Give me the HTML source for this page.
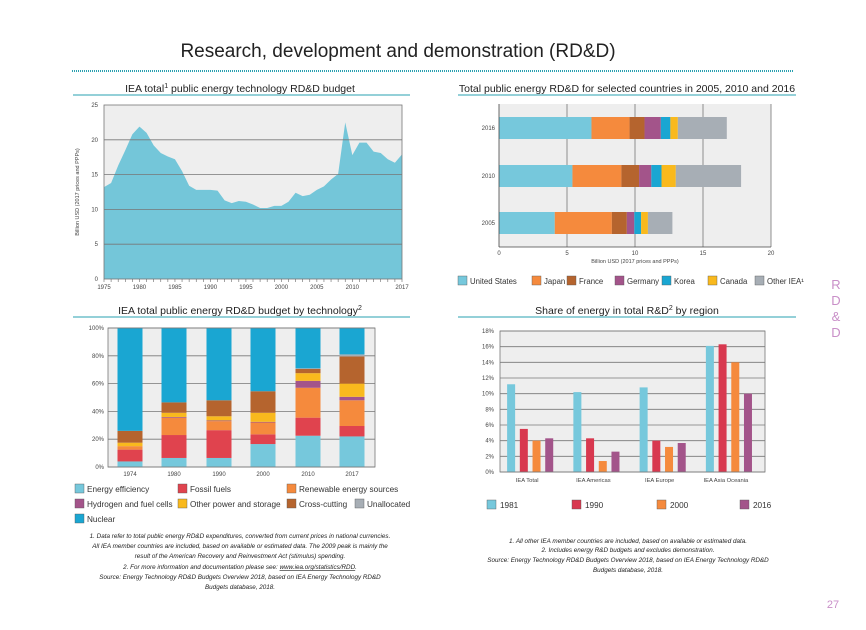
<!DOCTYPE html>
<html><head><meta charset="utf-8"><style>
body{margin:0;background:#fff;width:866px;height:630px;overflow:hidden;font-family:"Liberation Sans",sans-serif}
svg{display:block}
</style></head><body>
<svg id="s" width="866" height="630" viewBox="0 0 866 630">
<text x="398" y="57" text-anchor="middle" font-size="19" fill="#222">Research, development and demonstration (RD&amp;D)</text>
<line x1="72" y1="71" x2="793" y2="71" stroke="#2aa0b0" stroke-width="2" stroke-dasharray="1,1"/>
<g fill="#c98fc8" font-size="13" text-anchor="middle">
<text x="836" y="289">R</text><text x="836" y="305">D</text><text x="836" y="321">&amp;</text><text x="836" y="337">D</text></g>
<text x="833" y="608" font-size="11" fill="#c98fc8" text-anchor="middle">27</text>

<text x="240" y="92" text-anchor="middle" font-size="10.5" fill="#222">IEA total<tspan font-size="7" dy="-4">1</tspan><tspan dy="4"> public energy technology RD&amp;D budget</tspan></text>
<line x1="73" y1="95" x2="410" y2="95" stroke="#2aa0b0"/>
<text x="627" y="92" text-anchor="middle" font-size="10.5" fill="#222">Total public energy RD&amp;D for selected countries in 2005, 2010 and 2016</text>
<line x1="458" y1="95" x2="796" y2="95" stroke="#2aa0b0"/>
<text x="240" y="314" text-anchor="middle" font-size="10.5" fill="#222">IEA total public energy RD&amp;D budget by technology<tspan font-size="7" dy="-4">2</tspan></text>
<line x1="73" y1="317" x2="410" y2="317" stroke="#2aa0b0"/>
<text x="627" y="314" text-anchor="middle" font-size="10.5" fill="#222">Share of energy in total R&amp;D<tspan font-size="7" dy="-4">2</tspan><tspan dy="4"> by region</tspan></text>
<line x1="458" y1="317" x2="796" y2="317" stroke="#2aa0b0"/>

<g font-size="6.3" font-style="italic" fill="#222" text-anchor="middle">
<text x="240" y="538">1. Data refer to total public energy RD&amp;D expenditures, converted from current prices in national currencies.</text>
<text x="240" y="548">All IEA member countries are included, based on available or estimated data. The 2009 peak is mainly the</text>
<text x="240" y="558">result of the American Recovery and Reinvestment Act (stimulus) spending.</text>
<text x="240" y="569">2. For more information and documentation please see: <tspan text-decoration="underline">www.iea.org/statistics/RDD</tspan>.</text>
<text x="240" y="579">Source: Energy Technology RD&amp;D Budgets Overview 2018, based on IEA Energy Technology RD&amp;D</text>
<text x="240" y="589">Budgets database, 2018.</text></g>
<g font-size="6.3" font-style="italic" fill="#222" text-anchor="middle">
<text x="628" y="543">1. All other IEA member countries are included, based on available or estimated data.</text>
<text x="628" y="552">2. Includes energy R&amp;D budgets and excludes demonstration.</text>
<text x="628" y="562">Source: Energy Technology RD&amp;D Budgets Overview 2018, based on IEA Energy Technology RD&amp;D</text>
<text x="628" y="572">Budgets database, 2018.</text></g>
<g id="c1"></g><g id="c2"></g><g id="c3"></g><g id="c4"></g>
</svg>
<script>
// Chart 1 data
const c1Years=[];for(let y=1975;y<=2017;y++)c1Years.push(y);
const c1Values=[13.2,13.8,16.3,18.5,20.8,21.9,21.0,19.2,18.1,17.6,17.2,15.5,13.4,12.8,12.8,12.8,12.7,11.3,10.9,11.2,11.1,10.7,10.2,10.2,10.5,10.5,11.1,12.4,11.9,12.1,12.8,13.3,14.3,15.1,22.5,17.8,19.6,19.6,18.3,18.1,17.2,16.7,17.9];
const c1Ticks=[0,5,10,15,20,25];
const c1XLabels=[1975,1980,1985,1990,1995,2000,2005,2010,2017];
// Chart 2 data
const c2Years=["2016","2010","2005"];
const c2Countries=["United States","Japan","France","Germany","Korea","Canada","Other IEA¹"];
const c2US=[6.8,5.4,4.1];
const c2Japan=[2.8,3.6,4.2];
const c2France=[1.1,1.3,1.1];
const c2Germany=[1.2,0.9,0.55];
const c2Korea=[0.7,0.75,0.5];
const c2Canada=[0.55,1.05,0.5];
const c2Other=[3.6,4.8,1.8];
const c2Ticks=[0,5,10,15,20];
// Chart 3 data
const c3Years=["1974","1980","1990","2000","2010","2017"];
const c3Tech=["Energy efficiency","Fossil fuels","Renewable energy sources","Hydrogen and fuel cells","Other power and storage","Cross-cutting","Unallocated","Nuclear"];
const c3Efficiency=[4,6.5,6.5,16.5,22.5,22];
const c3Fossil=[8.5,16.5,20,7,13,7.5];
const c3Renewable=[2.5,12.5,6.5,8.5,21.5,18.5];
const c3Hydrogen=[0,0.5,0.5,0.5,5,2.5];
const c3OtherPower=[2.5,3,3,6.5,5.5,9.5];
const c3Cross=[8.5,7.5,11.5,15.5,3,19.5];
const c3Unalloc=[0,0,0,0,0.5,1.5];
const c3Nuclear=[74,53.5,52,45.5,29,19];
const c3Ticks=[0,20,40,60,80,100];
// Chart 4 data
const c4Regions=["IEA Total","IEA Americas","IEA Europe","IEA Asia Oceania"];
const c4Series=["1981","1990","2000","2016"];
const c4v1981=[11.2,10.2,10.8,16.1];
const c4v1990=[5.5,4.3,4.0,16.3];
const c4v2000=[4.0,1.4,3.2,14.0];
const c4v2016=[4.3,2.6,3.7,10.0];
const c4Ticks=[0,2,4,6,8,10,12,14,16,18];

const NS="http://www.w3.org/2000/svg";
function mk(p,tag,a,txt){const e=document.createElementNS(NS,tag);for(const k in a)e.setAttribute(k,a[k]);if(txt!==undefined)e.textContent=txt;p.appendChild(e);return e;}
const GRAY="#eeeeee",AX="#666";

// ---- Chart 1
(function(){
const g=document.getElementById('c1');
const L=104,R=402,T=105,B=279;
const x=y=>L+(y-1975)/(2017-1975)*(R-L);
const yv=v=>B-v/25*(B-T);
let bg=mk(g,'rect',{x:L,y:T,width:R-L,height:B-T,fill:GRAY});


let d='M'+x(1975)+','+B;
c1Years.forEach((yr,i)=>{d+=' L'+x(yr)+','+yv(c1Values[i]);});
d+=' L'+x(2017)+','+B+' Z';
let a=mk(g,'path',{d:d,fill:'#74c6d9'});


c1Ticks.forEach(t=>{
 if(t>0&&t<25){let gl=mk(g,'line',{x1:L,x2:R,y1:yv(t),y2:yv(t),stroke:'#777','stroke-width':0.8});
 
 }
 let tl=mk(g,'text',{x:L-6,y:yv(t)+2,'font-size':6,'text-anchor':'end',fill:'#444'},t);
 
 
});
mk(g,'rect',{x:L,y:T,width:R-L,height:B-T,fill:'none',stroke:'#777','stroke-width':0.8});
c1Years.forEach(yr=>{mk(g,'line',{x1:x(yr),x2:x(yr),y1:B,y2:B+3,stroke:AX,'stroke-width':0.6});});
c1XLabels.forEach(yr=>{let t=mk(g,'text',{x:x(yr),y:B+10,'font-size':6,'text-anchor':'middle',fill:'#444'},yr);
 
 });
let yt=mk(g,'text',{x:0,y:0,'font-size':5.5,'text-anchor':'middle',fill:'#444',transform:'translate(79,'+((T+B)/2)+') rotate(-90)'},'Billion USD (2017 prices and PPPs)');


})();

// ---- Chart 2
(function(){
const g=document.getElementById('c2');
const L=499,R=771,T=104,B=247;
const cols=['#76c8dc','#f58a3d','#b5642e','#a3548a','#1aa6d2','#f9b91d','#a7aeb5'];
const series=[c2US,c2Japan,c2France,c2Germany,c2Korea,c2Canada,c2Other];
const x=v=>L+v/20*(R-L);
const ctr=[128,176,223];
let bg=mk(g,'rect',{x:L,y:T,width:R-L,height:B-T,fill:GRAY});


c2Ticks.forEach(t=>{
 if(t>0){let gl=mk(g,'line',{x1:x(t),x2:x(t),y1:T,y2:B,stroke:'#777','stroke-width':0.8});
 
 }
 let tl=mk(g,'text',{x:x(t),y:B+8,'font-size':6,'text-anchor':'middle',fill:'#444'},t);
 
 
});
c2Years.forEach((yr,i)=>{
 let acc=0;
 series.forEach((s,j)=>{
  let r=mk(g,'rect',{x:x(acc),y:ctr[i]-11,width:x(acc+s[i])-x(acc),height:22,fill:cols[j]});
  
  
  acc+=s[i];
 });
 let t=mk(g,'text',{x:L-4,y:ctr[i]+2,'font-size':6,'text-anchor':'end',fill:'#444'},yr);
 
 
});
mk(g,'line',{x1:L,x2:L,y1:T,y2:B,stroke:'#444','stroke-width':0.8});
mk(g,'line',{x1:L,x2:R,y1:B,y2:B,stroke:'#444','stroke-width':0.8});
let xt=mk(g,'text',{x:(L+R)/2,y:B+16,'font-size':5.5,'text-anchor':'middle',fill:'#444'},'Billion USD (2017 prices and PPPs)');


const lx=[458,532,567,615,662,708,755];
c2Countries.forEach((c,j)=>{
 let r=mk(g,'rect',{x:lx[j],y:276,width:9,height:9,fill:cols[j],stroke:'#555','stroke-width':0.4});
 
 
 let t=mk(g,'text',{x:lx[j]+12,y:284,'font-size':7.8,fill:'#333'},c);
 
 
});
})();

// ---- Chart 3
(function(){
const g=document.getElementById('c3');
const L=108,R=375,T=328,B=467;
const cols=['#76c8dc','#e0434e','#f58a3d','#a3548a','#f9b91d','#b5642e','#a7aeb5','#1aa6d2'];
const series=[c3Efficiency,c3Fossil,c3Renewable,c3Hydrogen,c3OtherPower,c3Cross,c3Unalloc,c3Nuclear];
const yv=v=>B-v/100*(B-T);
const ctr=[130,174,219,263,308,352];
let bg=mk(g,'rect',{x:L,y:T,width:R-L,height:B-T,fill:GRAY});


c3Ticks.forEach(t=>{
 let gl=mk(g,'line',{x1:L,x2:R,y1:yv(t),y2:yv(t),stroke:'#777','stroke-width':0.8});
 
 
 let tl=mk(g,'text',{x:L-4,y:yv(t)+2,'font-size':6,'text-anchor':'end',fill:'#444'},t+'%');
 
 
});
c3Years.forEach((yr,i)=>{
 let acc=0;
 series.forEach((s,j)=>{
  let r=mk(g,'rect',{x:ctr[i]-12.5,y:yv(acc+s[i]),width:25,height:yv(acc)-yv(acc+s[i]),fill:cols[j]});
  
  
  acc+=s[i];
 });
 let t=mk(g,'text',{x:ctr[i],y:B+9,'font-size':6,'text-anchor':'middle',fill:'#444'},yr);
 
 
});
mk(g,'rect',{x:L,y:T,width:R-L,height:B-T,fill:'none',stroke:'#777','stroke-width':0.8});
const pos=[[75,489],[178,489],[287,489],[75,504],[178,504],[287,504],[355,504],[75,519]];
c3Tech.forEach((c,j)=>{
 let r=mk(g,'rect',{x:pos[j][0],y:pos[j][1]-5,width:9,height:9,fill:cols[j],stroke:'#555','stroke-width':0.4});
 
 
 let t=mk(g,'text',{x:pos[j][0]+12,y:pos[j][1]+3,'font-size':8.2,fill:'#333'},c);
 
 
});
})();

// ---- Chart 4
(function(){
const g=document.getElementById('c4');
const L=500,R=765,T=331,B=472;
const cols=['#76c8dc','#d8384f','#f58a3d','#a3548a'];
const series=[c4v1981,c4v1990,c4v2000,c4v2016];
const yv=v=>B-v/18*(B-T);
const gw=(R-L)/4;
let bg=mk(g,'rect',{x:L,y:T,width:R-L,height:B-T,fill:GRAY});


c4Ticks.forEach(t=>{
 let gl=mk(g,'line',{x1:L,x2:R,y1:yv(t),y2:yv(t),stroke:'#777','stroke-width':0.8});
 
 
 let tl=mk(g,'text',{x:L-6,y:yv(t)+2,'font-size':6,'text-anchor':'end',fill:'#444'},t+'%');
 
 
});
c4Regions.forEach((rg,i)=>{
 const c=L+gw*(i+0.5);
 series.forEach((s,j)=>{
  let r=mk(g,'rect',{x:c-26+j*12.7,y:yv(s[i]),width:8,height:B-yv(s[i]),fill:cols[j]});
  
  
 });
 let t=mk(g,'text',{x:c-6,y:B+10,'font-size':5.8,'text-anchor':'middle',fill:'#444'},rg);
 
 
});
mk(g,'rect',{x:L,y:T,width:R-L,height:B-T,fill:'none',stroke:'#777','stroke-width':0.8});
const lx=[487,572,657,740];
c4Series.forEach((c,j)=>{
 let r=mk(g,'rect',{x:lx[j],y:500,width:9,height:9,fill:cols[j],stroke:'#555','stroke-width':0.4});
 
 
 let t=mk(g,'text',{x:lx[j]+13,y:508,'font-size':8.2,fill:'#333'},c);
 
 
});
})();
</script>
</body></html>
